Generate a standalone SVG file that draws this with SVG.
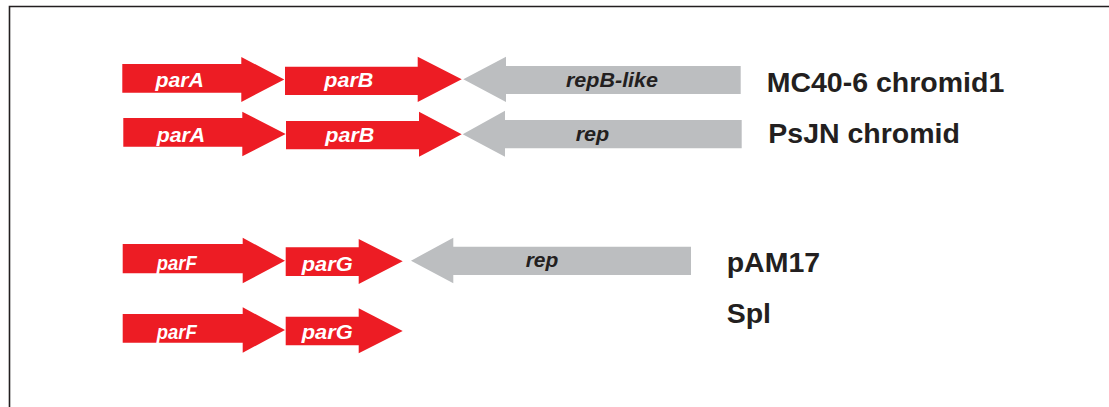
<svg xmlns="http://www.w3.org/2000/svg" width="1109" height="407" viewBox="0 0 1109 407">
  <style>
    .par { fill: #ed1c24; }
    .rep { fill: #bcbec0; }
    .gl { font-family: "Liberation Sans", Arial, sans-serif; font-weight: bold; font-style: italic; font-size: 19.5px; }
    .gw { fill: #ffffff; }
    .gd { fill: #231f20; }
    .lab { font-family: "Liberation Sans", Arial, sans-serif; font-weight: bold; font-size: 28.5px; fill: #231f20; }
  </style>
  <rect width="1109" height="407" fill="#ffffff"/>
  <!-- frame: top and left edges only -->
  <path d="M9.5 407 V6.5 H1109" fill="none" stroke="#231f20" stroke-width="1.6"/>

  <g id="connectors"/>

  <!-- MC40-6 chromid1 -->
  <g id="row1-parA">
    <polygon class="par" points="122.3,64 241.3,64 241.3,57 284.3,79.4 241.3,102 241.3,92.7 122.3,92.7"/>
    <text class="gl gw" x="155.5" y="87" textLength="48.5" lengthAdjust="spacingAndGlyphs">parA</text>
  </g>
  <g id="row1-parB">
    <polygon class="par" points="285,66.7 417.7,66.7 417.7,56.7 461.7,79.3 417.7,102 417.7,95 285,95"/>
    <text class="gl gw" x="324.3" y="87" textLength="49" lengthAdjust="spacingAndGlyphs">parB</text>
  </g>
  <g id="row1-repB">
    <polygon class="rep" points="740.7,66 506,66 506,56.7 463.3,79.3 506,102 506,94 740.7,94"/>
    <text class="gl gd" x="566" y="86.7" textLength="92" lengthAdjust="spacingAndGlyphs">repB-like</text>
  </g>
  <g id="label-mc40">
    <text class="lab" x="766.7" y="91.7">MC40-6 chromid1</text>
  </g>

  <!-- PsJN chromid -->
  <g id="row2-parA">
    <polygon class="par" points="123.3,118 242.3,118 242.3,111.7 285.7,134 242.3,156.3 242.3,146.7 123.3,146.7"/>
    <text class="gl gw" x="156.7" y="141.7" textLength="48.5" lengthAdjust="spacingAndGlyphs">parA</text>
  </g>
  <g id="row2-parB">
    <polygon class="par" points="286,121 419,121 419,111.7 461.7,134.3 419,156.7 419,149.3 286,149.3"/>
    <text class="gl gw" x="325.3" y="141.7" textLength="49" lengthAdjust="spacingAndGlyphs">parB</text>
  </g>
  <g id="row2-rep">
    <polygon class="rep" points="741.7,120 505,120 505,110.7 462.7,134.3 505,156.7 505,148.3 741.7,148.3"/>
    <text class="gl gd" x="575.7" y="140.5" textLength="33.6" lengthAdjust="spacingAndGlyphs">rep</text>
  </g>
  <g id="label-psjn">
    <text class="lab" x="768.3" y="143.3">PsJN chromid</text>
  </g>

  <!-- pAM17 -->
  <g id="row3-parF">
    <polygon class="par" points="122.7,244 242.7,244 242.7,237.7 285,260.7 242.7,283.3 242.7,273.3 122.7,273.3"/>
    <text class="gl gw" x="156.7" y="270" textLength="40" lengthAdjust="spacingAndGlyphs">parF</text>
  </g>
  <g id="row3-parG">
    <polygon class="par" points="285.7,247.3 358.7,247.3 358.7,239 402.7,261.3 358.7,284 358.7,276 285.7,276"/>
    <text class="gl gw" x="301.7" y="270.7" textLength="51" lengthAdjust="spacingAndGlyphs">parG</text>
  </g>
  <g id="row3-rep">
    <polygon class="rep" points="691,246.7 453.3,246.7 453.3,237.7 411,260.7 453.3,283.3 453.3,275 691,275"/>
    <text class="gl gd" x="525.7" y="266.7" textLength="32.6" lengthAdjust="spacingAndGlyphs">rep</text>
  </g>
  <g id="label-pam17">
    <text class="lab" x="726.7" y="271.7">pAM17</text>
  </g>

  <!-- Spl -->
  <g id="row4-parF">
    <polygon class="par" points="122.7,314 242.7,314 242.7,307.3 285,330 242.7,352.7 242.7,342.7 122.7,342.7"/>
    <text class="gl gw" x="156.7" y="338.5" textLength="40" lengthAdjust="spacingAndGlyphs">parF</text>
  </g>
  <g id="row4-parG">
    <polygon class="par" points="285.7,316.7 358.7,316.7 358.7,308.3 402.7,331 358.7,353.3 358.7,345.3 285.7,345.3"/>
    <text class="gl gw" x="301.7" y="339.3" textLength="51" lengthAdjust="spacingAndGlyphs">parG</text>
  </g>
  <g id="label-spl">
    <text class="lab" x="726.7" y="323.3">Spl</text>
  </g>
</svg>
